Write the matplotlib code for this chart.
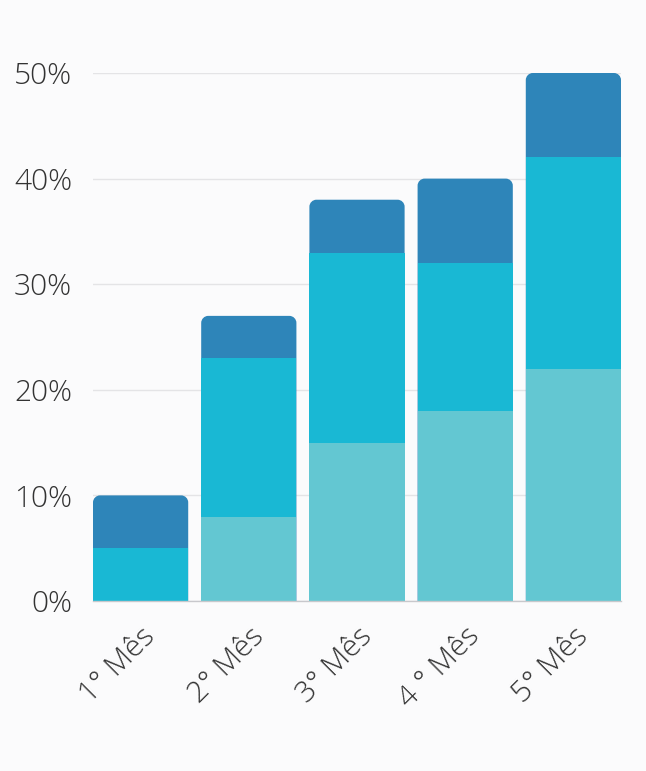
import numpy as np
import matplotlib.pyplot as plt
from matplotlib.path import Path
from matplotlib.patches import PathPatch

# dados
meses = ['1° Mês', '2° Mês', '3° Mês', '4 ° Mês', '5° Mês']
base = [0, 8, 15, 18, 22]
meio = [5, 15, 18, 14, 20]
topo = [5, 4, 5, 8, 8]
yticks = [0, 10, 20, 30, 40, 50]

c_base = '#63c7d2'
c_meio = '#19b8d4'
c_topo = '#2e85b9'
bg = '#fbfbfc'

plt.rcParams['font.family'] = ['Open Sans', 'DejaVu Sans']

fig = plt.figure(figsize=(6.46, 7.71), dpi=100, facecolor=bg)
ax = fig.add_axes([93 / 646, 1 - 601 / 771, 528 / 646, 528 / 771])
ax.set_facecolor(bg)

x = np.arange(len(meses))
w = 0.88


def rounded_top(xc, y0, h, width, rx, ry):
    l, r, t = xc - width / 2, xc + width / 2, y0 + h
    k = 0.55
    verts = [(l, y0), (r, y0), (r, t - ry),
             (r, t - ry * (1 - k)), (r - rx * (1 - k), t), (r - rx, t),
             (l + rx, t),
             (l + rx * (1 - k), t), (l, t - ry * (1 - k)), (l, t - ry),
             (l, y0)]
    codes = [Path.MOVETO, Path.LINETO, Path.LINETO,
             Path.CURVE4, Path.CURVE4, Path.CURVE4,
             Path.LINETO,
             Path.CURVE4, Path.CURVE4, Path.CURVE4,
             Path.CLOSEPOLY]
    return Path(verts, codes)


ax.set_xlim(-0.44, len(meses) - 1 + 0.44)
ax.set_ylim(0, 50)

# raio do canto em pixels -> unidades de dados
px_x = 528 / (len(meses) - 1 + 0.88)
px_y = 528 / 50
r_px = 7
# coluna inteira com canto arredondado por trás (cor do topo)
for i in range(len(meses)):
    total = base[i] + meio[i] + topo[i]
    p = rounded_top(x[i], 0, total, w, r_px / px_x, r_px / px_y)
    ax.add_patch(PathPatch(p, facecolor=c_topo, edgecolor='none',
                           zorder=2, clip_on=False))

ax.bar(x, base, w, color=c_base, zorder=3)
ax.bar(x, meio, w, bottom=base, color=c_meio, zorder=3)

ax.set_yticks(yticks)
ax.set_yticklabels([f'{v}%' for v in yticks])
ax.yaxis.grid(True, color='#e4e4e6', linewidth=1, zorder=0)
ax.set_axisbelow(True)
for s in ['top', 'right', 'left']:
    ax.spines[s].set_visible(False)
ax.spines['bottom'].set_color('#c8c8cc')
ax.spines['bottom'].set_linewidth(1)
ax.spines['bottom'].set_zorder(4)

ax.tick_params(axis='both', length=0, labelsize=21.5, labelcolor='#333333')
ax.tick_params(axis='y', pad=15)
ax.set_xticks(x)
ax.set_xticklabels(meses, rotation=45, ha='right', va='top',
                   rotation_mode='anchor', fontweight='light')
for t in ax.get_yticklabels():
    t.set_fontweight('light')
ax.tick_params(axis='x', pad=15)

fig.savefig('out.png', dpi=100, facecolor=bg)
